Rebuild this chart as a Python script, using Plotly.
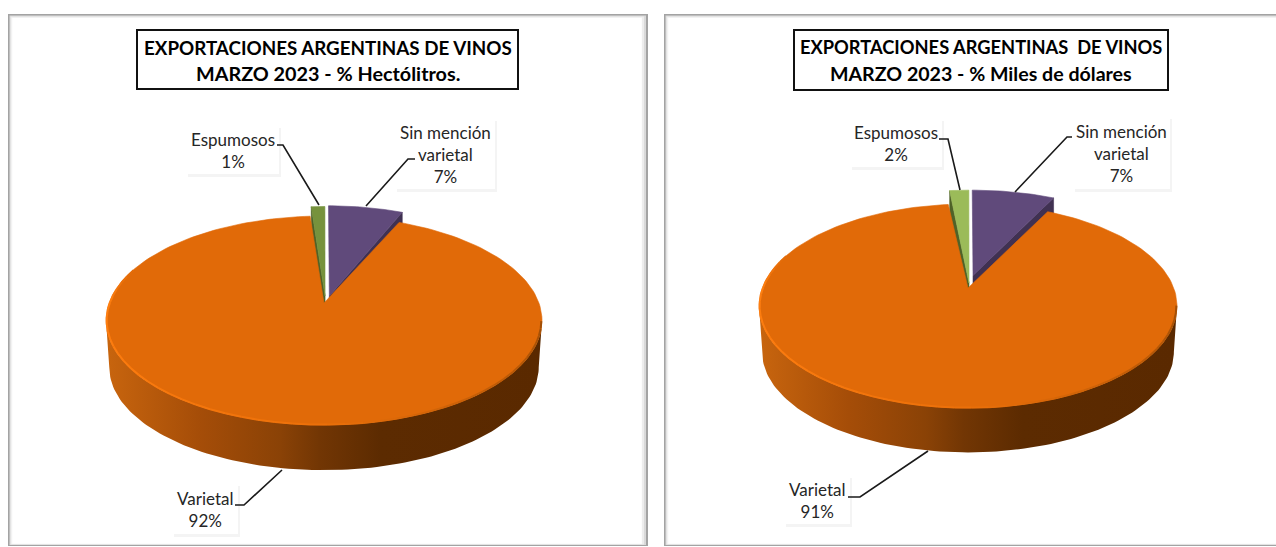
import math
import plotly.graph_objects as go

# ---- data ----
categories = ["Sin mención<br>varietal", "Varietal", "Espumosos"]
hectolitros_pct = [6.6, 92.2, 1.2]
miles_dolares_pct = [7.4, 90.8, 1.8]
titles_left = ["EXPORTACIONES ARGENTINAS DE VINOS", "MARZO 2023 - % Hectólitros."]
titles_right = ["EXPORTACIONES ARGENTINAS  DE VINOS", "MARZO 2023 - % Miles de dólares"]

# ---- styling / layout ----
FONT = "Lato"
C_ORANGE = "#E16A08"
C_PURPLE = "#604A7B"
C_PURPLE_D = "#403152"
C_GREEN = ["#76923C", "#9BBB59"]
C_GREEN_D = "#4F6228"
SIDE_STOPS = [(0.0, "#C8650E"), (0.215, "#A54D08"), (0.40, "#8A4206"),
              (0.49, "#723604"), (0.63, "#5C2B01"), (1.0, "#5A2900")]
RIM_STOPS = [(100, (160, 78, 6)), (150, (205, 98, 8)), (180, (235, 112, 10)),
             (230, (250, 122, 14)), (270, (255, 127, 16)), (290, (225, 106, 8))]

panels = [
    dict(xa="x", ya="y", values=hectolitros_pct, title=titles_left, title_sizes=(18.8, 19.8),
         x0=324, y0=303, up=87, down=122, rx=218,
         pur=dict(sx=1.0, sy=1.07, dx=0.025, dy=0.07), gre=dict(sx=1.0, sy=1.06, dx=0.005, dy=0.07),
         title_box=(137, 30, 518, 89),
         boxes=[(395, 119, 495, 189), (172, 484, 238, 534), (186, 126, 279, 174)],
         leaders=[[(366, 206), (408, 159), (415, 159)], [(282, 470), (244, 505), (235, 505)],
                  [(319, 205), (283, 145), (277, 145)]],
         frame=(8, 14, 648, 546), domain=(0, 656)),
    dict(xa="x2", ya="y2", values=miles_dolares_pct, title=titles_right, title_sizes=(18.3, 19.6),
         x0=968, y0=288, up=84, down=120, rx=209,
         pur=dict(sx=1.05, sy=1.07, dx=0.025, dy=0.13), gre=dict(sx=1.0, sy=1.15, dx=0.005, dy=0.05),
         title_box=(794, 30, 1168, 90),
         boxes=[(1073, 117, 1170, 189), (784, 476, 850, 524), (850, 119, 942, 167)],
         leaders=[[(1015, 192), (1067, 137), (1072, 137)], [(928, 451), (860, 497), (848, 497)],
                  [(960, 190), (948, 139), (939, 139)]],
         frame=(664, 14, 1290, 546), domain=(656, 1276)),
]


def lerp(stops, t):
    if t <= stops[0][0]:
        return stops[0][1]
    for (a, ca), (b, cb) in zip(stops, stops[1:]):
        if t <= b:
            f = (t - a) / (b - a)
            return tuple(round(p + (q - p) * f) for p, q in zip(ca, cb))
    return stops[-1][1]


def rgb(c):
    return "rgb(%d,%d,%d)" % c


fig = go.Figure()
shapes, annotations = [], []


def poly(p, pts, color, lw=0.6):
    fig.add_trace(go.Scatter(x=[q[0] for q in pts], y=[q[1] for q in pts], xaxis=p["xa"], yaxis=p["ya"],
                             mode="lines", fill="toself", fillcolor=color, line=dict(color=color, width=lw),
                             hoverinfo="skip", showlegend=False))


def line(p, pts, color="#1A1A1A", w=1.6):
    fig.add_trace(go.Scatter(x=[a for a, _ in pts], y=[b for _, b in pts], xaxis=p["xa"], yaxis=p["ya"],
                             mode="lines", line=dict(color=color, width=w),
                             hoverinfo="skip", showlegend=False))


for idx, p in enumerate(panels):
    up, down = p["up"], p["down"]
    a = 2 * up * down / (up + down)
    k = a / up - 1
    b = p["rx"] * math.sqrt(1 - k * k)

    def proj(th, dx=0.0, dy=0.0, sx=1.0, sy=1.0, scale=1.0, dz=0.0):
        X = sx * math.sin(th) + dx if th is not None else dx
        Y = sy * math.cos(th) + dy if th is not None else dy
        w = 1 + k * Y
        return p["x0"] + scale * b * X / w, p["y0"] + dz - scale * a * Y / w

    total = sum(p["values"])
    deg = [v / total * 2 * math.pi for v in p["values"]]
    s_pur, e_pur = 0.0, deg[0]
    s_or, e_or = deg[0], deg[0] + deg[1]
    s_gr, e_gr = e_or, 2 * math.pi

    # panel frame
    fx0, fy0, fx1, fy1 = p["frame"]
    xr, yr = p["xa"], p["ya"]

    def rect(x0, y0, x1, y1, fill, lc=None, lw=0, layer="below"):
        shapes.append(dict(type="rect", xref=xr, yref=yr, x0=x0, y0=y0, x1=x1, y1=y1, fillcolor=fill,
                           line=dict(color=lc or fill, width=lw), layer=layer))

    rect(fx0, fy0, fx1, fy1, "#A3A3A3")
    for i, c in enumerate(["#D9D9D9", "#EDEDED", "#F8F8F8"]):
        rect(fx0 + 1.5 + i, fy0 + 1.5 + i, fx1 - 2 - 2 * i, fy1 - 1 - i * 0.5, c)
    rect(fx0 + 4.5, fy0 + 4, fx1 - 6.5, fy1 - 2.5, "#FFFFFF")

    # label boxes with soft shadow
    for (bx0, by0, bx1, by1) in p["boxes"]:
        rect(bx0 + 2, by0 + 2, bx1 + 2, by1 + 3, "#F4F4F4")
        rect(bx0, by0, bx1, by1, "#FFFFFF")

    # varietal side wall, one smooth horizontal gradient, between the silhouette points
    dz_side = down * 0.385
    wall_start = math.acos(-k)
    wall_end = 2 * math.pi - wall_start
    wn = 120
    wths = [wall_start + (wall_end - wall_start) * i / wn for i in range(wn + 1)]
    wall = [proj(t) for t in wths] + [proj(t, scale=0.985, dz=dz_side) for t in reversed(wths)]
    wall.append(wall[0])
    fig.add_trace(go.Scatter(
        x=[q[0] for q in wall], y=[q[1] for q in wall], xaxis=p["xa"], yaxis=p["ya"],
        mode="lines", fill="toself", line=dict(width=0), hoverinfo="skip", showlegend=False,
        fillgradient=dict(type="horizontal", colorscale=SIDE_STOPS,
                          start=p["x0"] - p["rx"], stop=p["x0"] + p["rx"])))

    # cut faces of the two small exploded slices
    pur, gre = p["pur"], p["gre"]
    tip, corner = proj(None, pur["dx"], pur["dy"]), proj(e_pur, **pur)
    poly(p, [tip, corner, (corner[0], corner[1] + dz_side), (tip[0], tip[1] + dz_side), tip], C_PURPLE_D)
    tip_g, corner_g = proj(None, gre["dx"], gre["dy"]), proj(s_gr, **gre)
    poly(p, [tip_g, corner_g, (corner_g[0], corner_g[1] + dz_side), (tip_g[0], tip_g[1] + dz_side), tip_g], C_GREEN_D)

    # varietal top face
    m = 180
    arc = [proj(s_or + (e_or - s_or) * i / m) for i in range(m + 1)]
    apex = (p["x0"], p["y0"])
    poly(p, [apex] + arc + [apex], C_ORANGE)

    # bevel along the rim
    rim = 48
    rths = [math.radians(100) + (math.radians(290) - math.radians(100)) * i / rim for i in range(rim + 1)]
    for t0, t1 in zip(rths, rths[1:]):
        line(p, [proj(t0, scale=0.997), proj(t1, scale=0.997)],
             rgb(lerp(RIM_STOPS, math.degrees((t0 + t1) / 2))), 2.0)

    # small slices' top faces
    poly(p, [tip] + [proj(s_pur + (e_pur - s_pur) * i / 24, **pur) for i in range(25)] + [tip], C_PURPLE)
    poly(p, [tip_g] + [proj(s_gr + (e_gr - s_gr) * i / 8, **gre) for i in range(9)] + [tip_g], C_GREEN[idx])

    # leaders
    for pts in p["leaders"]:
        line(p, pts)

    # labels
    for cat, val, box in zip(categories, p["values"], p["boxes"]):
        annotations.append(dict(xref=xr, yref=yr, x=(box[0] + box[2]) / 2, y=(box[1] + box[3]) / 2,
                                text="%s<br>%d%%" % (cat, round(val)), showarrow=False, align="center",
                                font=dict(family=FONT, size=17, color="#262626")))

    # title box
    tb = p["title_box"]
    rect(tb[0], tb[1], tb[2], tb[3], "#FFFFFF", "#111111", 2, "above")
    cx = (tb[0] + tb[2]) / 2
    for txt, yy, sz in zip(p["title"], (47, 73), p["title_sizes"]):
        annotations.append(dict(xref=xr, yref=yr, x=cx, y=yy, text="<b>%s</b>" % txt, showarrow=False,
                                align="center", font=dict(family=FONT, size=sz, color="#000000")))

layout = dict(width=1276, height=547, autosize=False, margin=dict(l=0, r=0, t=0, b=0),
              paper_bgcolor="#FFFFFF", plot_bgcolor="#FFFFFF", showlegend=False,
              shapes=shapes, annotations=annotations)
for p, xk, yk in zip(panels, ["xaxis", "xaxis2"], ["yaxis", "yaxis2"]):
    d0, d1 = p["domain"]
    layout[xk] = dict(domain=[d0 / 1276, d1 / 1276], range=[d0, d1], visible=False, fixedrange=True)
    layout[yk] = dict(domain=[0, 1], range=[547, 0], visible=False, fixedrange=True)
fig.update_layout(**layout)
fig.write_html("out.html", config=dict(displayModeBar=False),
               post_script="document.body.style.margin='0';")
